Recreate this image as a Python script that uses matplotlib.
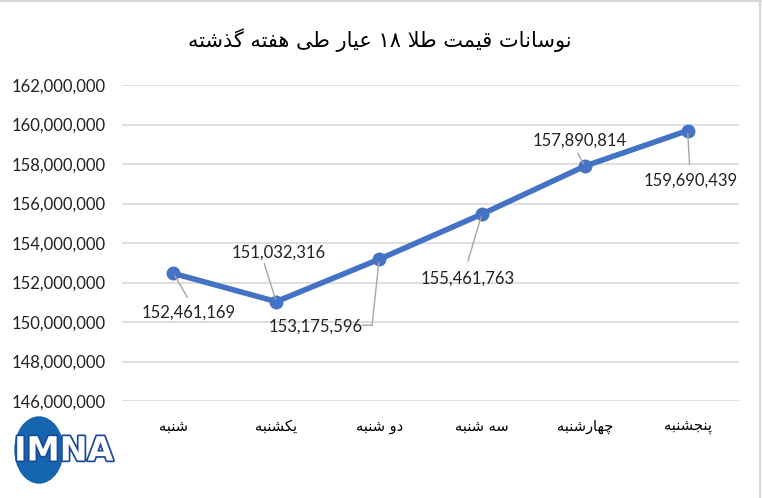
import matplotlib
matplotlib.use("Agg")
import matplotlib.pyplot as plt
import matplotlib.patheffects as pe
from matplotlib.patches import Ellipse
from matplotlib.ticker import FuncFormatter
from matplotlib.transforms import offset_copy

# data
days = ["شنبه", "یکشنبه", "دو شنبه", "سه شنبه", "چهارشنبه", "پنجشنبه"]
prices = [152461169, 151032316, 153175596, 155461763, 157890814, 159690439]
title = "نوسانات قیمت طلا ۱۸ عیار طی هفته گذشته"
y_ticks = list(range(146000000, 162000001, 2000000))

# label placement (offset pixels from the point): text, leader end
lab_off = [(15, -39), (2, 49), (-63, -67), (-14, -64), (-5, 26), (3, -50)]
lead_off = [(14, -24), (-12, 38), (-7, -66), (-14, -47), (-7, 13), (2, -34)]

# --- small persian shaper (matplotlib has no arabic shaping) ---
FORMS = {
    'ا': (0xFE8D, 0xFE8E, None, None),
    'ب': (0xFE8F, 0xFE90, 0xFE91, 0xFE92),
    'ت': (0xFE95, 0xFE96, 0xFE97, 0xFE98),
    'ج': (0xFE9D, 0xFE9E, 0xFE9F, 0xFEA0),
    'د': (0xFEA9, 0xFEAA, None, None),
    'ذ': (0xFEAB, 0xFEAC, None, None),
    'ر': (0xFEAD, 0xFEAE, None, None),
    'س': (0xFEB1, 0xFEB2, 0xFEB3, 0xFEB4),
    'ش': (0xFEB5, 0xFEB6, 0xFEB7, 0xFEB8),
    'ط': (0xFEC1, 0xFEC2, 0xFEC3, 0xFEC4),
    'ع': (0xFEC9, 0xFECA, 0xFECB, 0xFECC),
    'ف': (0xFED1, 0xFED2, 0xFED3, 0xFED4),
    'ق': (0xFED5, 0xFED6, 0xFED7, 0xFED8),
    'ل': (0xFEDD, 0xFEDE, 0xFEDF, 0xFEE0),
    'م': (0xFEE1, 0xFEE2, 0xFEE3, 0xFEE4),
    'ن': (0xFEE5, 0xFEE6, 0xFEE7, 0xFEE8),
    'ه': (0xFEE9, 0xFEEA, 0xFEEB, 0xFEEC),
    'و': (0xFEED, 0xFEEE, None, None),
    'ی': (0xFBFC, 0xFBFD, 0xFBFE, 0xFBFF),
    'ک': (0xFB8E, 0xFB8F, 0xFB90, 0xFB91),
    'گ': (0xFB92, 0xFB93, 0xFB94, 0xFB95),
    'پ': (0xFB56, 0xFB57, 0xFB58, 0xFB59),
    'چ': (0xFB7A, 0xFB7B, 0xFB7C, 0xFB7D),
}


def joins_left(c):
    return c in FORMS and FORMS[c][2] is not None


def shape_word(w):
    # lam-alef ligature
    chars = []
    i = 0
    while i < len(w):
        if w[i] == 'ل' and i + 1 < len(w) and w[i + 1] == 'ا':
            chars.append('LA')
            i += 2
        else:
            chars.append(w[i])
            i += 1
    out = []
    for i, c in enumerate(chars):
        prev = chars[i - 1] if i > 0 else None
        after = prev is not None and joins_left(prev)
        if c == 'LA':
            out.append(chr(0xFEFC if after else 0xFEFB))
            continue
        if c not in FORMS:
            out.append(c)
            continue
        iso, fin, ini, med = FORMS[c]
        nxt = chars[i + 1] if i + 1 < len(chars) else None
        before = ini is not None and nxt is not None and (nxt in FORMS or nxt == 'LA')
        if after and before:
            out.append(chr(med))
        elif after:
            out.append(chr(fin))
        elif before:
            out.append(chr(ini))
        else:
            out.append(chr(iso))
    return ''.join(out)


def fa(s):
    words = [shape_word(w) for w in s.split(' ')]
    res = []
    for w in reversed(words):
        if all(ch in '۰۱۲۳۴۵۶۷۸۹' for ch in w):
            res.append(w)  # numbers stay left-to-right
        else:
            res.append(w[::-1])
    return ' '.join(res)


num_font = "Lato"
blue = "#4472C4"
grid_c = "#D9D9D9"
lead_c = "#A6A6A6"

fig = plt.figure(figsize=(7.62, 4.98), dpi=100)
ax = fig.add_axes([122 / 762, 1 - 401 / 498, 617 / 762, 316 / 498])

x = list(range(len(days)))
ax.plot(x, prices, color=blue, lw=4, marker='o', ms=9, solid_capstyle='round', zorder=3)

ax.set_xlim(-0.5, len(days) - 0.5)
ax.set_ylim(y_ticks[0], y_ticks[-1])
ax.set_yticks(y_ticks)
ax.yaxis.set_major_formatter(FuncFormatter(lambda v, p: f"{int(v):,}"))
ax.grid(axis='y', color=grid_c, lw=1.2)
ax.set_axisbelow(True)
for s in ax.spines.values():
    s.set_visible(False)
ax.tick_params(axis='both', length=0, colors="#000000")
ax.tick_params(axis='y', pad=12)
ax.tick_params(axis='x', pad=13)
for t in ax.get_yticklabels():
    t.set_fontfamily(num_font)
    t.set_fontsize(12)
    t.set_color("#222222")
ax.set_xticks(x)
ax.set_xticklabels([fa(d) for d in days], fontfamily="DejaVu Sans", fontsize=10.5)

for i in range(len(days)):
    ax.annotate('', xy=(x[i], prices[i]), xytext=lead_off[i], textcoords='offset pixels',
                arrowprops=dict(arrowstyle='-', color=lead_c, lw=1, shrinkA=0, shrinkB=2))
    ax.annotate(f"{prices[i]:,}", xy=(x[i], prices[i]), xytext=lab_off[i],
                textcoords='offset pixels', ha='center', va='center',
                fontfamily=num_font, fontsize=12, color="#222222")

# elbow on the third leader
elbow = offset_copy(ax.transData, fig=fig, x=lead_off[2][0], y=lead_off[2][1], units='dots')
ax.annotate('', xy=(x[2], prices[2]), xycoords=elbow, xytext=(-10, 0), textcoords='offset pixels',
            arrowprops=dict(arrowstyle='-', color=lead_c, lw=1, shrinkA=0, shrinkB=0))

fig.text(380 / 762, 1 - 40 / 498, fa(title), ha='center', va='center',
         fontfamily="DejaVu Sans", fontsize=15)

# logo
fig.patches.append(Ellipse((39 / 762, 1 - 450 / 498), 48 / 762, 66 / 498,
                           transform=fig.transFigure, color="#1565B0", zorder=1))
fig.text(64 / 762, 1 - 451 / 498, "IMNA", ha='center', va='center', fontsize=24,
         fontweight='bold', fontfamily="DejaVu Sans", color="white", zorder=2,
         path_effects=[pe.withStroke(linewidth=2.5, foreground="#1A4A9A")])

# chart frame
fig.add_artist(plt.Line2D([0, 1], [1 - 1.5 / 498] * 2, color=grid_c, lw=1.5, transform=fig.transFigure))
fig.add_artist(plt.Line2D([1 - 2.5 / 762] * 2, [0, 1], color=grid_c, lw=1.5, transform=fig.transFigure))

fig.savefig("out.png", dpi=100)
